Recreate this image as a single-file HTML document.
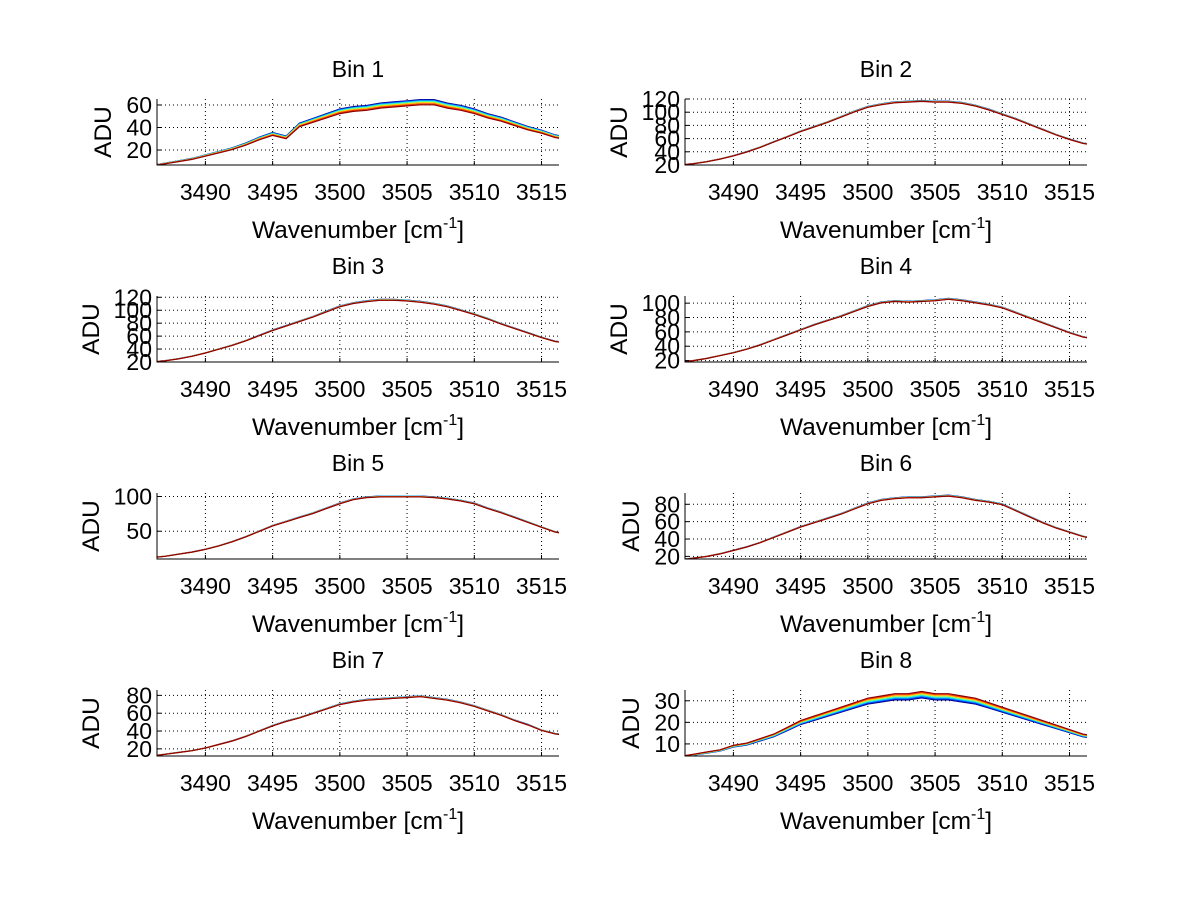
<!DOCTYPE html>
<html><head><meta charset="utf-8"><style>
body{margin:0;background:#fff;}
svg text{font-family:"Liberation Sans",Arial,sans-serif;fill:#000;}
</style></head><body>
<svg id="fig" width="1200" height="901" viewBox="0 0 1200 901" xmlns="http://www.w3.org/2000/svg"></svg>
<script>
const wavenumbers=[3486,3487,3488,3489,3490,3491,3492,3493,3494,3495,3496,3497,3498,3499,3500,3501,3502,3503,3504,3505,3506,3507,3508,3509,3510,3511,3512,3513,3514,3515,3516,3517];
const bin1=[6,8,10,12,15,18,21,25,30,34,31,42,46,50,54,56,57,59,60,61,62,62,59,57,54,50,47,43,39,36,32,30];
const bin2=[20,22,25,29,34,40,47,55,63,71,78,85,93,101,108,112,115,116,117,116,116,114,110,104,97,90,82,74,66,59,53,50];
const bin3=[20,22,25,29,34,40,46,53,61,69,76,83,90,98,106,111,114,116,116,115,113,110,106,100,94,87,79,72,65,58,52,49];
const bin4=[18,20,23,27,31,36,42,49,56,63,70,76,82,89,96,101,103,102,103,104,106,104,101,98,94,87,80,73,66,59,53,50];
const bin5=[12,14,17,20,24,29,35,42,50,58,64,70,76,83,90,96,99,100,100,100,100,99,97,94,90,83,77,70,63,56,49,46];
const bin6=[16,18,20,23,27,31,36,42,48,54,59,64,69,75,81,85,87,88,88,89,90,88,85,83,80,73,66,59,53,48,43,40];
const bin7=[12,14,16,18,21,25,29,34,40,46,51,55,60,65,70,73,75,76,77,78,79,77,75,72,68,63,58,52,47,41,37,35];
const bin8=[4,5,6,7,9,10,12,14,17,20,22,24,26,28,30,31,32,32,33,32,32,31,30,28,26,24,22,20,18,16,14,13];
const binData=[bin1,bin2,bin3,bin4,bin5,bin6,bin7,bin8];
const yLimits=[[6.7,65.3],[20,120],[20,122],[18,110],[10,105],[17,93],[12,86],[4.4,35]];
const yTicks=[[20,40,60],[20,40,60,80,100,120],[20,40,60,80,100,120],[20,40,60,80,100],[50,100],[20,40,60,80],[20,40,60,80],[10,20,30]];
const xTicks=[3490,3495,3500,3505,3510,3515];
const xLimit=[3486.4,3516.3];
const seriesColors=['#00008f','#0040ff','#00cfff','#60ff9f','#ffcf00','#ff4000','#8f0000'];
const offsetsBin1=[0.045,0.035,0.025,0.015,0.0,-0.015,-0.03];
const offsetsBin8=[-0.05,-0.035,-0.02,-0.005,0.01,0.025,0.04];
const offsetsSmall=[0.006,0.004,0.002,0,-0.002,-0.004,-0.006];
const binOffsets=[offsetsBin1,offsetsSmall,offsetsSmall,offsetsSmall,offsetsSmall,offsetsSmall,offsetsSmall,offsetsBin8];
const aduX=[102,618,90,618,90,630,90,630];

const NS='http://www.w3.org/2000/svg';
const svg=document.getElementById('fig');
function mk(tag,attrs,parent){const e=document.createElementNS(NS,tag);for(const k in attrs)e.setAttribute(k,attrs[k]);(parent||svg).appendChild(e);return e;}
const colsX=[[157,559],[685,1087]];
for(let b=0;b<8;b++){
  const col=b%2,row=Math.floor(b/2);
  const L=colsX[col][0],R=colsX[col][1],T=99+197*row,B=165+197*row;
  const g=mk('g',{});
  
  
  const xs=v=>L+(v-xLimit[0])/(xLimit[1]-xLimit[0])*(R-L);
  const ys=v=>B-(v-yLimits[b][0])/(yLimits[b][1]-yLimits[b][0])*(B-T);
  const cid='clip'+b;
  const cp=mk('clipPath',{id:cid},g);mk('rect',{x:L,y:T-3,width:R-L,height:B-T+3},cp);
  xTicks.forEach(t=>{const ln=mk('line',{x1:xs(t),x2:xs(t),y1:T,y2:B,stroke:'#000','stroke-width':1,'stroke-dasharray':'1,3'},g);
    });
  yTicks[b].forEach(t=>{const ln=mk('line',{x1:L,x2:R,y1:ys(t),y2:ys(t),stroke:'#000','stroke-width':1,'stroke-dasharray':'1,3'},g);
    });
  const d=binData[b];
  binOffsets[b].forEach((o,k)=>{
    const pts=wavenumbers.map((w,i)=>xs(w).toFixed(1)+','+ys(d[i]*(1+o)).toFixed(1)).join(' ');
    const pl=mk('polyline',{points:pts,fill:'none',stroke:seriesColors[k],'stroke-width':1.2,'clip-path':'url(#'+cid+')'},g);
    
    
  });
  const ax=mk('path',{d:`M${L},${T}V${B}H${R}`,fill:'none',stroke:'#000','stroke-width':1},g);
  
  xTicks.forEach(t=>{mk('line',{x1:xs(t),x2:xs(t),y1:B,y2:B-4,stroke:'#000'},g);
    const tx=mk('text',{x:xs(t),y:B+35,'font-size':23,'text-anchor':'middle'},g);tx.textContent=t;
    });
  yTicks[b].forEach(t=>{mk('line',{x1:L,x2:L+4,y1:ys(t),y2:ys(t),stroke:'#000'},g);
    const tx=mk('text',{x:L-5,y:ys(t)+8,'font-size':23,'text-anchor':'end'},g);tx.textContent=t;
    });
  const ttl=mk('text',{x:(L+R)/2,y:T-22,'font-size':23,'text-anchor':'middle'},g);ttl.textContent='Bin '+(b+1);
  
  const xl=mk('text',{x:(L+R)/2,y:B+73,'font-size':24.5,'text-anchor':'middle'},g);
  xl.innerHTML='Wavenumber [cm<tspan dy="-10" font-size="16">-1</tspan><tspan dy="10">]</tspan>';
  
  const yl=mk('text',{x:0,y:0,'font-size':24.5,'text-anchor':'middle',transform:`translate(${aduX[b]+9},${(T+B)/2}) rotate(-90)`},g);
  yl.textContent='ADU';
  
}
</script>
</body></html>
